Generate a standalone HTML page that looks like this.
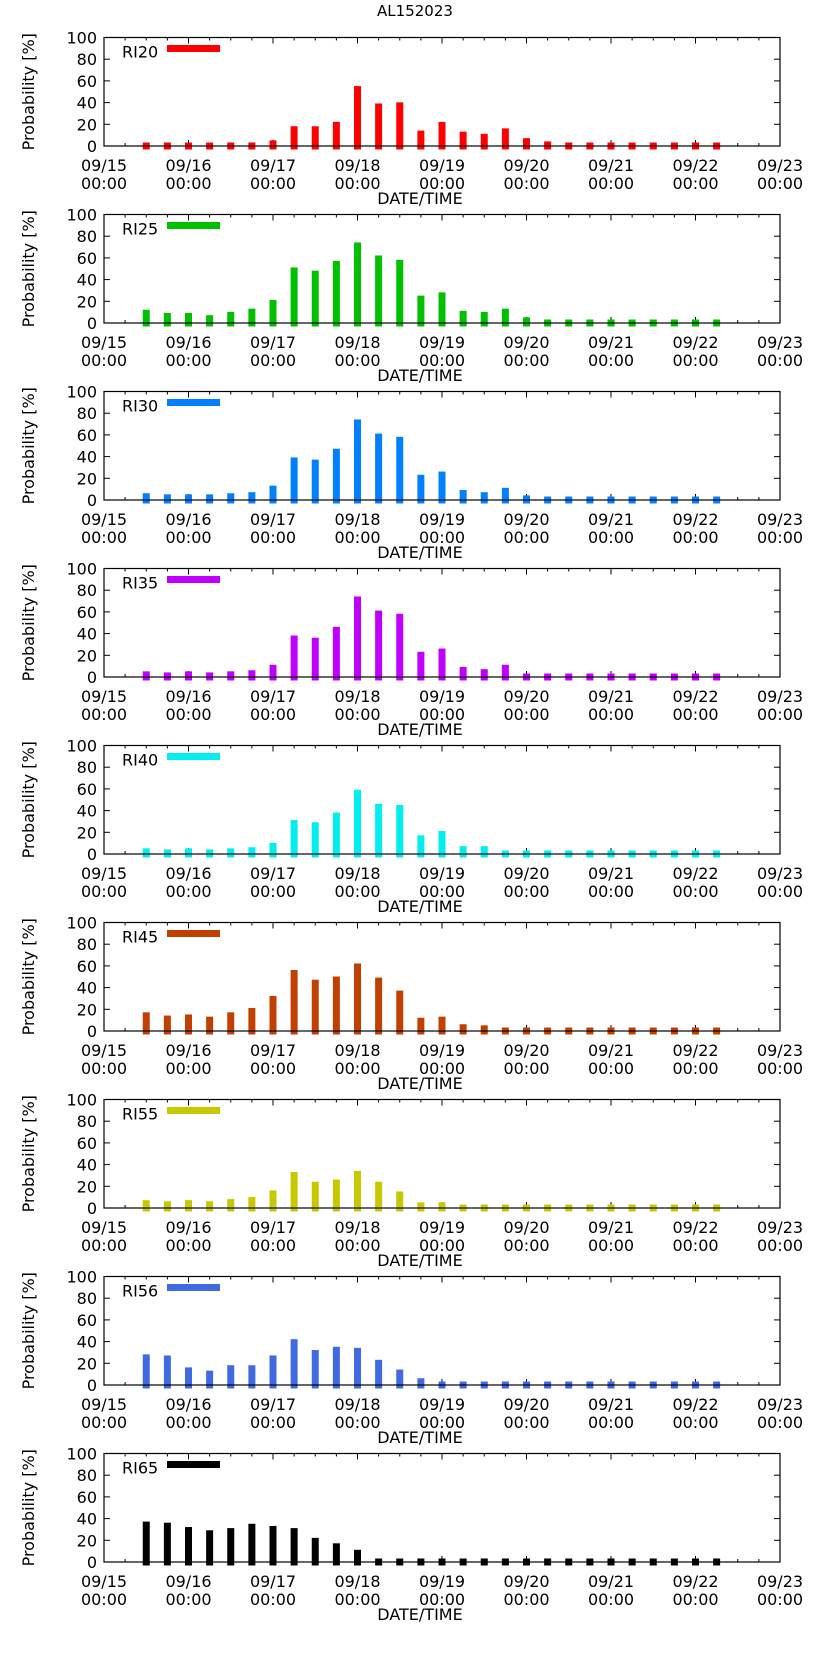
<!DOCTYPE html>
<html><head><meta charset="utf-8"><style>
html,body{margin:0;padding:0;background:#fff;}
svg{display:block;font-family:"DejaVu Sans","Liberation Sans",sans-serif;}
</style></head><body>
<svg id="c" width="822" height="1653" xmlns="http://www.w3.org/2000/svg">
<text x="415" y="16" text-anchor="middle" font-size="15">AL152023</text>
</svg>
<script>
const panelNames = ["RI20","RI25","RI30","RI35","RI40","RI45","RI55","RI56","RI65"];
const panelColors = ["#ff0000","#00c000","#0080ff","#c000ff","#00eeee","#c04000","#c8c800","#4169e1","#000000"];
const yTicks = [0,20,40,60,80,100];
const xTickDays = ["09/15","09/16","09/17","09/18","09/19","09/20","09/21","09/22","09/23"];
// bars every 6h starting 09/15 12:00
const ri20 = [0,0,0,0,0,0,2,15,15,19,52,36,37,11,19,10,8,13,4,1,0,0,0,0,0,0,0,0];
const ri25 = [9,6,6,4,7,10,18,48,45,54,71,59,55,22,25,8,7,10,2,0,0,0,0,0,0,0,0,0];
const ri30 = [3,2,2,2,3,4,10,36,34,44,71,58,55,20,23,6,4,8,1,0,0,0,0,0,0,0,0,0];
const ri35 = [2,1,2,1,2,3,8,35,33,43,71,58,55,20,23,6,4,8,0,0,0,0,0,0,0,0,0,0];
const ri40 = [2,1,2,1,2,3,7,28,26,35,56,43,42,14,18,4,4,0,0,0,0,0,0,0,0,0,0,0];
const ri45 = [14,11,12,10,14,18,29,53,44,47,59,46,34,9,10,3,2,0,0,0,0,0,0,0,0,0,0,0];
const ri55 = [4,3,4,3,5,7,13,30,21,23,31,21,12,2,2,0,0,0,0,0,0,0,0,0,0,0,0,0];
const ri56 = [25,24,13,10,15,15,24,39,29,32,31,20,11,3,0,0,0,0,0,0,0,0,0,0,0,0,0,0];
const ri65 = [34,33,29,26,28,32,30,28,19,14,8,0,0,0,0,0,0,0,0,0,0,0,0,0,0,0,0,0];
const series = [ri20,ri25,ri30,ri35,ri40,ri45,ri55,ri56,ri65];

const NS="http://www.w3.org/2000/svg";
const svg=document.getElementById('c');
const L=104,R=780,H=108.5;
function mk(tag,attrs,parent){const e=document.createElementNS(NS,tag);for(const k in attrs)e.setAttribute(k,attrs[k]);(parent||svg).appendChild(e);return e;}
function xh(h){return L+h*(R-L)/(8*24);}
series.forEach((vals,p)=>{
  const top=37.5+p*177, bot=top+H;
  const y=v=>bot-v/100*H;
  const g=mk('g',{});
  
  
  yTicks.forEach(t=>{
    const yy=y(t);
    mk('line',{x1:L,x2:L+6,y1:yy,y2:yy,stroke:'#000','stroke-width':1},g);
    mk('line',{x1:R,x2:R-6,y1:yy,y2:yy,stroke:'#000','stroke-width':1},g);
    const tx=mk('text',{x:L-7,y:yy+6,'text-anchor':'end','font-size':16},g);
    tx.textContent=t;
    
    
  });
  for(let h=0;h<=192;h+=6){
    const len=(h%24===0)?6:3, xx=xh(h);
    mk('line',{x1:xx,x2:xx,y1:bot,y2:bot-len,stroke:'#000','stroke-width':1},g);
    mk('line',{x1:xx,x2:xx,y1:top,y2:top+len,stroke:'#000','stroke-width':1},g);
  }
  xTickDays.forEach((d,i)=>{
    const xx=xh(i*24);
    const t1=mk('text',{x:xx,y:bot+25,'text-anchor':'middle','font-size':16},g);
    t1.textContent=d;
    
    
    const t2=mk('text',{x:xx,y:bot+43,'text-anchor':'middle','font-size':16},g);
    t2.textContent='00:00';
    
    
  });
  const xt=mk('text',{x:(L+R)/2-22,y:bot+58,'text-anchor':'middle','font-size':16},g);
  xt.textContent='DATE/TIME';
  
  
  const yt=mk('text',{x:0,y:0,'text-anchor':'middle','font-size':16,transform:`translate(34,${top+H/2}) rotate(-90)`},g);
  yt.textContent='Probability [%]';
  
  
  vals.forEach((v,i)=>{
    const xx=xh(12+6*i);
    const r=mk('rect',{x:xx-3.5,y:y(v)-3.5,width:7,height:(bot+3.5)-(y(v)-3.5),fill:panelColors[p]},g);
    
    
  });
  mk('rect',{x:L,y:top,width:R-L,height:H,fill:'none',stroke:'#000','stroke-width':1.2},g);
  const lt=mk('text',{x:122,y:top+20,'font-size':16},g);
  lt.textContent=panelNames[p];
  
  
  const ll=mk('rect',{x:167,y:top+7.5,width:53,height:7,fill:panelColors[p]},g);
  
  
});
</script>
</body></html>
